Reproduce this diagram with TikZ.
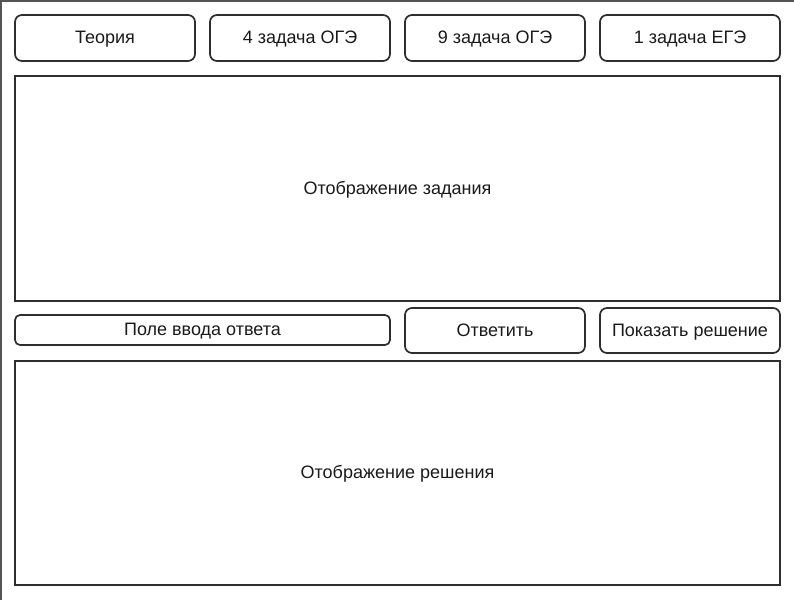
\documentclass[tikz,border=0pt]{standalone}
\usepackage{fontspec}
\setmainfont{Liberation Sans}
\definecolor{strokec}{HTML}{2E2E2E}
\definecolor{framec}{HTML}{555555}
\definecolor{textc}{HTML}{1A1A1A}
\begin{document}
\begin{tikzpicture}[x=1pt,y=-1pt,
  btn/.style={draw=strokec, line width=1.7pt, rounded corners=7pt, fill=white},
  panel/.style={draw=strokec, line width=1.7pt, fill=white},
  lbl/.style={text=textc, font=\fontsize{18}{21}\selectfont, inner sep=0pt, anchor=base}]
\useasboundingbox (0,0) rectangle (794,599);
\fill[white] (0,0) rectangle (794,599);
\draw[framec, line width=2pt] (1,620) -- (1,1) -- (820,1);
% top buttons
\draw[btn] (15,15) rectangle (195,61);
\node[lbl] (teoria) at (105,43.5) {Теория};
\draw[btn] (210,15) rectangle (390,61);
\node[lbl] (z4) at (300,43.5) {4 задача ОГЭ};
\draw[btn] (405,15) rectangle (585,61);
\node[lbl] (z9) at (495,43.5) {9 задача ОГЭ};
\draw[btn] (600,15) rectangle (780,61);
\node[lbl] (z1) at (690,43.5) {1 задача ЕГЭ};
% task panel
\draw[panel] (15,76) rectangle (780,301);
\node[lbl] (task) at (397.5,194) {Отображение задания};
% answer row
\draw[btn, rounded corners=5pt] (15,315) rectangle (390,345);
\node[lbl] (field) at (202.5,335.5) {Поле ввода ответа};
\draw[btn] (405,308) rectangle (585,353);
\node[lbl] (answer) at (495,336) {Ответить};
\draw[btn] (600,308) rectangle (780,353);
\node[lbl] (show) at (690,336) {Показать решение};
% solution panel
\draw[panel] (15,361) rectangle (780,585);
\node[lbl] (sol) at (397.5,478.5) {Отображение решения};
\end{tikzpicture}
\end{document}
